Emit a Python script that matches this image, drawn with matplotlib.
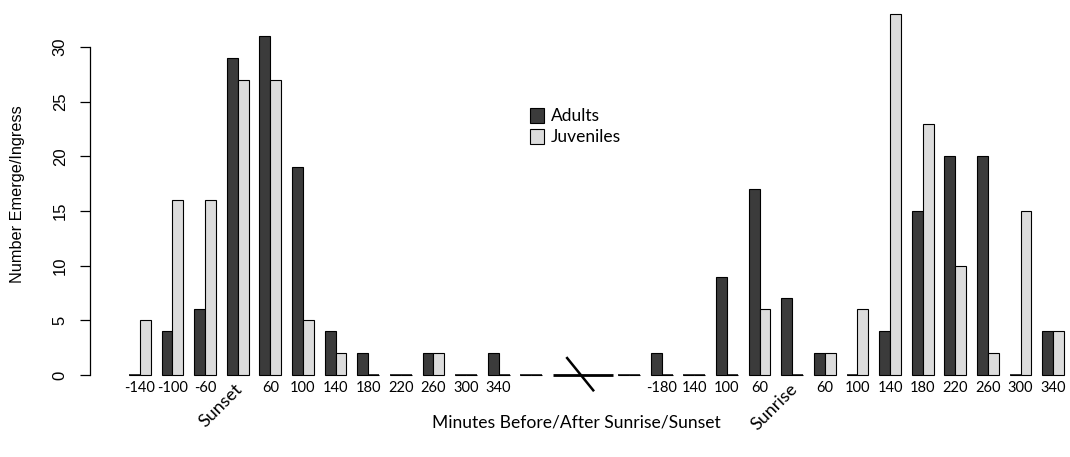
import numpy as np
import matplotlib
matplotlib.use("Agg")
import matplotlib.pyplot as plt
import matplotlib.transforms as mtransforms
from matplotlib.patches import Patch

# counts per 40-minute bin, evening (left) and morning (right)
left_labels = ['-140', '-100', '-60', 'Sunset', '60', '100', '140', '180', '220', '260', '300', '340']
left_adults = [0, 4, 6, 29, 31, 19, 4, 2, 0, 2, 0, 2]
left_juveniles = [5, 16, 16, 27, 27, 5, 2, 0, 0, 2, 0, 0]

right_labels = ['-180', '140', '100', '60', 'Sunrise', '60', '100', '140', '180', '220', '260', '300', '340']
right_adults = [2, 0, 9, 17, 7, 2, 0, 4, 15, 20, 20, 0, 4]
right_juveniles = [0, 0, 0, 6, 0, 2, 6, 33, 23, 10, 2, 15, 4]

nan = np.nan
# one empty bin, two slots for the axis break, one empty bin
labels = left_labels + ['', '', '', ''] + right_labels
adults = np.array(left_adults + [0, nan, nan, 0] + right_adults, dtype=float)
juveniles = np.array(left_juveniles + [0, nan, nan, 0] + right_juveniles, dtype=float)
break_slots = [len(left_labels) + 1, len(left_labels) + 2]

dark = '#3b3b3b'
light = '#dcdcdc'

W, H = 1070, 457
fig = plt.figure(figsize=(W / 100, H / 100), dpi=100)

# R barplot layout: bar width 1, one unit of space before each group
px_unit = 10.872
x0_px = 129
left_px, right_px = 90, 1070
y0_px, top_px = 375, 12
py_unit = 10.933
ax = fig.add_axes([left_px / W, (H - y0_px) / H, (right_px - left_px) / W, (y0_px - top_px) / H])

starts = 1 + 3 * np.arange(len(labels))
ok = ~np.isnan(adults)
for offs, vals, col in [(0.5, adults, dark), (1.5, juveniles, light)]:
    xs = starts[ok] + offs
    v = vals[ok]
    bars = ax.bar(xs, v, width=1, color=col, edgecolor='black', linewidth=0.8)
    for b in bars:
        b.set_clip_on(False)
    # zero counts still show the bar outline as a flat line
    zero = v == 0
    ax.hlines(np.zeros(zero.sum()), xs[zero] - 0.5, xs[zero] + 0.5, color='black',
              lw=1.1, clip_on=False)

# axis break mark
bx0 = starts[break_slots[0]]
bx1 = starts[break_slots[1]] + 2.5
ax.plot([bx0, bx1], [0, 0], color='black', lw=2, clip_on=False, solid_capstyle='butt')
ax.plot([bx0 + 1.3, bx0 + 3.7], [1.55, -1.4], color='black', lw=1.8, clip_on=False)

ax.set_xlim(1 - (x0_px - left_px) / px_unit, 1 + (right_px - x0_px) / px_unit)
ax.set_ylim(0, (y0_px - top_px) / py_unit)

ax.set_xticks(starts + 1)
ax.set_xticklabels(labels, fontsize=10.5, family='Lato')
ax.tick_params(axis='x', length=0, pad=4)
offset = mtransforms.ScaledTranslation(8 / 100, 0, fig.dpi_scale_trans)
for t in ax.get_xticklabels():
    if t.get_text() in ('Sunset', 'Sunrise'):
        t.set_rotation(45)
        t.set_ha('right')
        t.set_va('top')
        t.set_fontsize(13)
        t.set_transform(t.get_transform() + offset)

ax.set_yticks([0, 5, 10, 15, 20, 25, 30])
ax.tick_params(axis='y', length=7, width=0.9, pad=9, labelsize=12)
for t in ax.get_yticklabels():
    t.set_rotation(90)
    t.set_va('center')
    t.set_family('Liberation Sans')
ax.spines['left'].set_bounds(0, 30)
ax.spines['left'].set_linewidth(0.9)
for s in ['top', 'right', 'bottom']:
    ax.spines[s].set_visible(False)

fig.text(18 / W, 1 - 194 / H, 'Number Emerge/Ingress', rotation=90, ha='center', va='center',
         fontsize=11.7, family='Liberation Sans')
fig.text(576 / W, 1 - 423 / H, 'Minutes Before/After Sunrise/Sunset', ha='center', va='center',
         fontsize=12.6, family='Lato')

handles = [Patch(facecolor=dark, edgecolor='black', linewidth=0.8),
           Patch(facecolor=light, edgecolor='black', linewidth=0.8)]
fig.legend(handles, ['Adults', 'Juveniles'], loc='upper left',
           bbox_to_anchor=(521 / W, 1 - 99 / H), frameon=False,
           prop={'family': 'Lato', 'size': 12.5}, handlelength=0.8, handleheight=1.0,
           handletextpad=0.4, labelspacing=0.25, borderpad=0)

fig.savefig('out.png', dpi=100)
